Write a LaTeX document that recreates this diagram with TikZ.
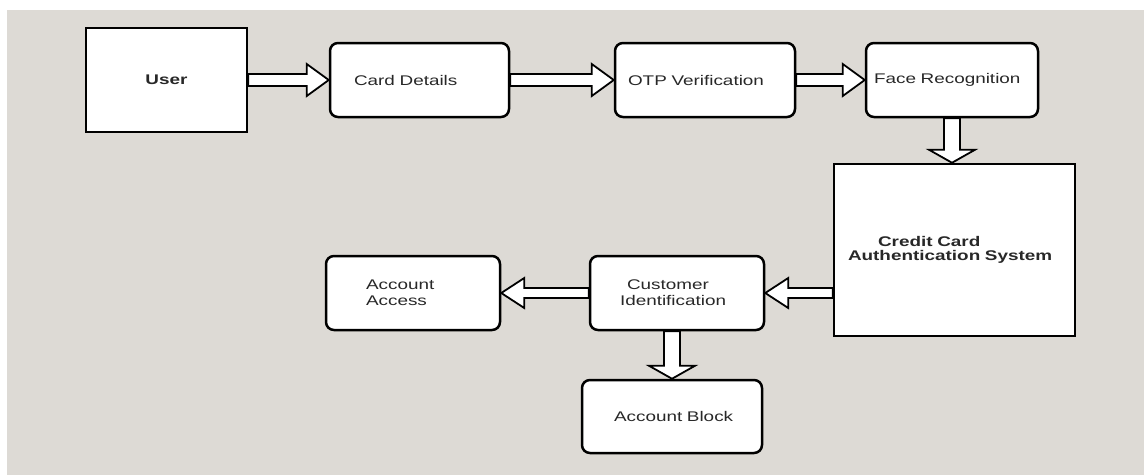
\documentclass[tikz,border=0pt]{standalone}
\usepackage{fontspec}
\setmainfont{Liberation Sans}[FakeStretch=1.35]
\usetikzlibrary{calc}
\definecolor{bg}{RGB}{221,218,213}
\definecolor{ink}{RGB}{40,40,40}
\begin{document}
\begin{tikzpicture}[x=1pt,y=-1pt,
  every node/.style={font=\fontsize{14}{16}\selectfont, text=ink},
  sbox/.style={draw=black, line width=2.5pt, fill=white, rectangle, inner sep=0pt},
  rbox/.style={sbox, rounded corners=8pt},
  blk/.style={draw=black, line width=1.8pt, fill=white},
  rarr/.style={blk, to path={let \p1=(\tikztostart), \p2=(\tikztotarget) in
     (\x1,\y1-6pt) -- (\x2-22pt,\y1-6pt) -- (\x2-22pt,\y1-16pt) -- (\x2,\y1)
     -- (\x2-22pt,\y1+16pt) -- (\x2-22pt,\y1+6pt) -- (\x1,\y1+6pt) -- cycle}},
  larr/.style={blk, to path={let \p1=(\tikztostart), \p2=(\tikztotarget) in
     (\x1,\y1-5pt) -- (\x2+23pt,\y1-5pt) -- (\x2+23pt,\y1-15pt) -- (\x2,\y1)
     -- (\x2+23pt,\y1+15pt) -- (\x2+23pt,\y1+5pt) -- (\x1,\y1+5pt) -- cycle}},
  darr/.style={blk, to path={let \p1=(\tikztostart), \p2=(\tikztotarget) in
     (\x1-8pt,\y1) -- (\x1-8pt,\y2+13pt) -- (\x1-23pt,\y2+13pt) -- (\x1,\y2)
     -- (\x1+23pt,\y2+13pt) -- (\x1+8pt,\y2+13pt) -- (\x1+8pt,\y1) -- cycle}}
]
\useasboundingbox (0,0) rectangle (1144,475);
\fill[white] (0,0) rectangle (1144,475);
\fill[bg] (7,10) rectangle (1144,475);

\node[sbox, minimum width=161pt, minimum height=104pt,
      font=\fontsize{14}{16}\selectfont\bfseries] (user) at (166.5,80) {User};
\node[rbox, text width=179pt, minimum height=74pt, align=left] (card) at (419.5,80)
  {\hspace*{24pt}Card Details};
\node[rbox, text width=180pt, minimum height=74pt, align=left] (otp) at (705,80)
  {\hspace*{13pt}OTP Verification};
\node[rbox, text width=172pt, minimum height=74pt, align=left] (face) at (952,80)
  {\hspace*{8pt}Face Recognition};
\node[sbox, text width=241pt, minimum height=172pt, align=left,
      font=\fontsize{14}{14}\selectfont\bfseries] (ccas) at (954.5,250)
  {\hspace*{44pt}Credit Card\\\hspace*{14pt}Authentication System};
\node[rbox, text width=174pt, minimum height=74pt, align=left] (cust) at (677,293)
  {\hspace*{37pt}Customer\\\hspace*{30pt}Identification};
\node[rbox, text width=174pt, minimum height=74pt, align=left] (aa) at (413,293)
  {\hspace*{40pt}Account\\\hspace*{40pt}Access};
\node[rbox, text width=180pt, minimum height=73pt, align=left] (ab) at (672,416.5)
  {\hspace*{32pt}Account Block};

\draw[rarr] (user.east) to (card.west);
\draw[rarr] (card.east) to (otp.west);
\draw[rarr] (otp.east) to (face.west);
\draw[darr] (face.south) to (face.south |- ccas.north);
\draw[larr] (ccas.west |- cust.east) to (cust.east);
\draw[larr] (cust.west) to (aa.east);
\draw[darr] (ab.north |- cust.south) to (ab.north);
\end{tikzpicture}
\end{document}
